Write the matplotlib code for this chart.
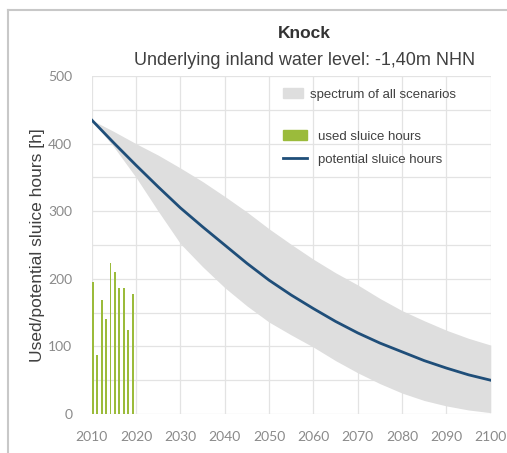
import matplotlib
matplotlib.use("Agg")
import matplotlib.pyplot as plt
from matplotlib.lines import Line2D
from matplotlib.patches import Patch

# used sluice hours (observed)
bar_years = [2010, 2011, 2012, 2013, 2014, 2015, 2016, 2017, 2018, 2019]
used_hours = [196, 88, 169, 141, 223, 210, 186, 186, 124, 178]

# potential sluice hours and scenario spectrum
years = [2010, 2015, 2020, 2025, 2030, 2035, 2040, 2045, 2050, 2055,
         2060, 2065, 2070, 2075, 2080, 2085, 2090, 2095, 2100]
potential = [435, 401, 368, 336, 305, 277, 250, 223, 198, 176,
             156, 137, 120, 105, 92, 79, 68, 58, 50]
upper = [435, 418, 400, 383, 364, 344, 322, 299, 274, 251,
         229, 209, 191, 171, 153, 138, 124, 112, 102]
lower = [435, 395, 350, 300, 252, 218, 187, 160, 136, 117,
         99, 79, 61, 45, 31, 20, 12, 6, 2]

grey_txt = "#7f7f7f"
dark_txt = "#404040"

fig = plt.figure(figsize=(5.07, 4.53), dpi=100)
ax = fig.add_axes([0.181, 0.086, 0.787, 0.746])

ax.fill_between(years, lower, upper, color="#dedede", lw=0, zorder=1)
ax.bar(bar_years, used_hours, width=0.45, align="edge", color="#9bbb3b", zorder=2)
ax.plot(years, potential, color="#1f4e79", lw=2, zorder=3)

ax.set_xlim(2010, 2100)
ax.set_ylim(0, 500)
ax.set_xticks(range(2010, 2101, 10))
ax.set_yticks(range(0, 501, 100))
ax.set_yticks(range(0, 501, 50), minor=True)
ax.grid(True, which="both", color="#e3e3e3", lw=0.9, zorder=0)
ax.set_axisbelow(True)
for s in ax.spines.values():
    s.set_visible(False)
ax.tick_params(which="both", length=0, colors="#8a8a8a", labelsize=10)
ax.tick_params(axis="x", pad=12)
ax.tick_params(axis="y", pad=14)
for lab in ax.get_xticklabels() + ax.get_yticklabels():
    lab.set_family("Lato")

ax.set_ylabel("Used/potential sluice hours [h]", fontsize=12.5, color=dark_txt,
              family="Liberation Sans", labelpad=2)

fig.text(0.60, 0.925, "Knock", ha="center", va="center", fontsize=12.5,
         fontweight="bold", color="#333333", family="Liberation Sans")
fig.text(0.60, 0.866, "Underlying inland water level: -1,40m NHN", ha="center",
         va="center", fontsize=13, color=dark_txt, family="Liberation Sans")

leg1 = ax.legend(handles=[Patch(color="#dedede", label="spectrum of all scenarios")],
                 loc="upper left", bbox_to_anchor=(0.45, 1.0), frameon=False,
                 handlelength=1.5, handleheight=0.8, handletextpad=0.5,
                 prop={"family": "Liberation Sans", "size": 9.5})
for t in leg1.get_texts():
    t.set_color(dark_txt)
ax.add_artist(leg1)
leg2 = ax.legend(handles=[Patch(color="#9bbb3b", label="used sluice hours"),
                          Line2D([], [], color="#1f4e79", lw=2, label="potential sluice hours")],
                 loc="upper left", bbox_to_anchor=(0.45, 0.875), frameon=False,
                 handlelength=1.8, handleheight=0.8, handletextpad=0.8, labelspacing=0.8,
                 prop={"family": "Liberation Sans", "size": 9.5})
for t in leg2.get_texts():
    t.set_color(dark_txt)

# outer frame of the picture
fig.add_artist(Line2D([8 / 507, 8 / 507], [0, 1 - 10 / 453], color="#c8c8c8", lw=1.5))
fig.add_artist(Line2D([8 / 507, 1], [1 - 10 / 453, 1 - 10 / 453], color="#c8c8c8", lw=1.5))

fig.savefig("out.png", dpi=100)
